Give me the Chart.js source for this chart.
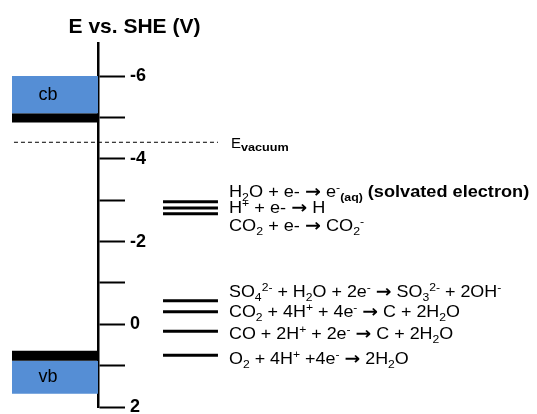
<!DOCTYPE html>
<html>
<head>
<meta charset="utf-8">
<script src="https://cdn.jsdelivr.net/npm/chart.js@4/dist/chart.umd.min.js"></script>
<style>
  html, body { margin: 0; padding: 0; background: #fff; }
  #wrap { width: 537px; height: 414px; }
</style>
</head>
<body>
<div id="wrap"><canvas id="c" width="537" height="414"></canvas></div>
<script>
// ---- values (potential in V vs. SHE) ----
const axisTitle = 'E vs. SHE (V)';
const tickValues = [-6, -5, -4, -3, -2, -1, 0, 1, 2];
const tickLabels = ['-6', '', '-4', '', '-2', '', '0', '', '2'];
const axisRange = [-6.8, 2];

// semiconductor bands: [from, to]
const cbBand = [-6.0, -5.1];
const cbEdge = [-5.1, -4.88];
const vbEdge = [0.64, 0.88];
const vbBand = [0.88, 1.68];
const bandNames = ['cb', 'vb'];

const vacuumLevel = -4.4;

// redox potentials
const upperLevels = [-2.96, -2.81, -2.67];
const lowerLevels = [-0.57, -0.30, 0.17, 0.75];

// reaction text; _{} subscript, ^{} superscript, *{} bold, %{} bold subscript, @{} arrow
const upperReactions = [
  'H_{2}O + e- @{→} e^{-}%{(aq)} *{(solvated electron)}',
  'H^{+} + e- @{→} H',
  'CO_{2} + e- @{→} CO_{2}^{-}'
];
const lowerReactions = [
  'SO_{4}^{2-} + H_{2}O + 2e^{-} @{→} SO_{3}^{2-} + 2OH^{-}',
  'CO_{2} + 4H^{+} + 4e^{-} @{→} C + 2H_{2}O',
  'CO + 2H^{+} + 2e^{-} @{→} C + 2H_{2}O',
  'O_{2} + 4H^{+} +4e^{-} @{→} 2H_{2}O'
];

// ---- layout ----
const FONT = "'Liberation Sans', Arial, sans-serif";
const ARROW_FONT = "'DejaVu Sans', sans-serif";
const BLUE = '#558ED5';
const W = 537, AXIS_PX = 98;
const levelSpan = [1.756, 2.395];   // x extent of level bars (x scale units)
const vacuumSpan = [0.023, 2.395];
const upperTextY = [197, 213, 231];
const lowerTextY = [297, 317, 339, 364];
const TEXT_X = 229;

function hLine(x0, x1, y) { return [{x: x0, y: y}, {x: x1, y: y}]; }

function bandDataset(range, color) {
  return {
    data: hLine(0, 1, range[0]),
    fill: {value: range[1]},
    backgroundColor: color,
    borderColor: 'rgba(0,0,0,0)',
    borderWidth: 0
  };
}

function levelDataset(v) {
  return {
    data: hLine(levelSpan[0], levelSpan[1], v),
    borderColor: '#000',
    borderWidth: 3,
    fill: false
  };
}

const datasets = [
  bandDataset(cbBand, BLUE),
  bandDataset(cbEdge, '#000'),
  bandDataset(vbEdge, '#000'),
  bandDataset(vbBand, BLUE),
  {
    data: hLine(vacuumSpan[0], vacuumSpan[1], vacuumLevel),
    borderColor: '#000',
    borderWidth: 1,
    borderDash: [4, 3],
    fill: false
  },
  ...upperLevels.map(levelDataset),
  ...lowerLevels.map(levelDataset)
];

function drawRich(ctx, x, y, markup, size, hscale) {
  const re = /([_^*%@])\{([^}]*)\}|([^_^*%@]+)/g;
  let m, cx = 0;
  ctx.save();
  ctx.translate(x, y);
  ctx.scale(hscale, 1);
  ctx.textAlign = 'left';
  ctx.textBaseline = 'alphabetic';
  ctx.fillStyle = '#000';
  while ((m = re.exec(markup))) {
    let text, sz = size, dy = 0, weight = 'normal', family = FONT;
    if (m[3] !== undefined) {
      text = m[3];
    } else {
      text = m[2];
      if (m[1] === '_') { sz = size * 0.68; dy = size * 0.22; }
      else if (m[1] === '^') { sz = size * 0.68; dy = -size * 0.36; }
      else if (m[1] === '*') { weight = 'bold'; }
      else if (m[1] === '%') { sz = size * 0.68; dy = size * 0.22; weight = 'bold'; }
      else if (m[1] === '@') { weight = 'bold'; family = ARROW_FONT; sz = size * 1.05; dy = size * 0.02; }
    }
    ctx.font = `${weight} ${sz}px ${family}`;
    ctx.fillText(text, cx, dy);
    cx += ctx.measureText(text).width;
  }
  ctx.restore();
}

const annotations = {
  id: 'annotations',
  afterDraw(chart) {
    const ctx = chart.ctx;
    const ys = chart.scales.y;
    ctx.save();
    ctx.fillStyle = '#000';
    // axis title
    ctx.font = `bold 21px ${FONT}`;
    ctx.textAlign = 'center';
    ctx.textBaseline = 'alphabetic';
    ctx.fillText(axisTitle, 134.5, 33);
    // band names
    ctx.font = `18px ${FONT}`;
    ctx.textBaseline = 'middle';
    ctx.fillText(bandNames[0], 48, ys.getPixelForValue((cbBand[0] + cbBand[1]) / 2));
    ctx.fillText(bandNames[1], 48, ys.getPixelForValue((vbBand[0] + vbBand[1]) / 2));
    ctx.restore();
    // vacuum label
    const vy = ys.getPixelForValue(vacuumLevel);
    drawRich(ctx, 231, vy + 6, 'E', 15, 1);
    drawRich(ctx, 241, vy + 9, '*{vacuum}', 11, 1.15);
    // reactions
    upperReactions.forEach((t, i) => drawRich(ctx, TEXT_X, upperTextY[i], t, 16.5, 1.10));
    lowerReactions.forEach((t, i) => drawRich(ctx, TEXT_X, lowerTextY[i], t, 16.5, 1.085));
  }
};

new Chart(document.getElementById('c'), {
  type: 'line',
  data: { datasets },
  options: {
    responsive: false,
    devicePixelRatio: 1,
    animation: false,
    events: [],
    layout: { padding: { left: 12, right: 0, top: 43, bottom: 7 } },
    datasets: { line: { clip: false, pointRadius: 0, pointHoverRadius: 0 } },
    plugins: { legend: { display: false }, tooltip: { enabled: false } },
    scales: {
      x: { type: 'linear', display: false, min: 0, max: 1 },
      y: {
        type: 'linear',
        position: 'right',
        reverse: true,
        min: axisRange[0],
        max: axisRange[1],
        z: 1,
        afterBuildTicks(scale) { scale.ticks = tickValues.map(v => ({ value: v })); },
        afterFit(scale) {
          scale.width = W - AXIS_PX;
          scale.paddingTop = 0;
          scale.paddingBottom = 0;
        },
        grid: { drawOnChartArea: false, drawTicks: true, tickLength: 27, tickWidth: 2, tickColor: '#000' },
        border: { display: true, color: '#000', width: 2.5 },
        ticks: {
          autoSkip: false,
          padding: 5,
          color: '#000',
          font: { family: FONT, size: 18, weight: 'bold' },
          callback: (v, i) => tickLabels[i]
        }
      }
    }
  },
  plugins: [annotations]
});
</script>
</body>
</html>
